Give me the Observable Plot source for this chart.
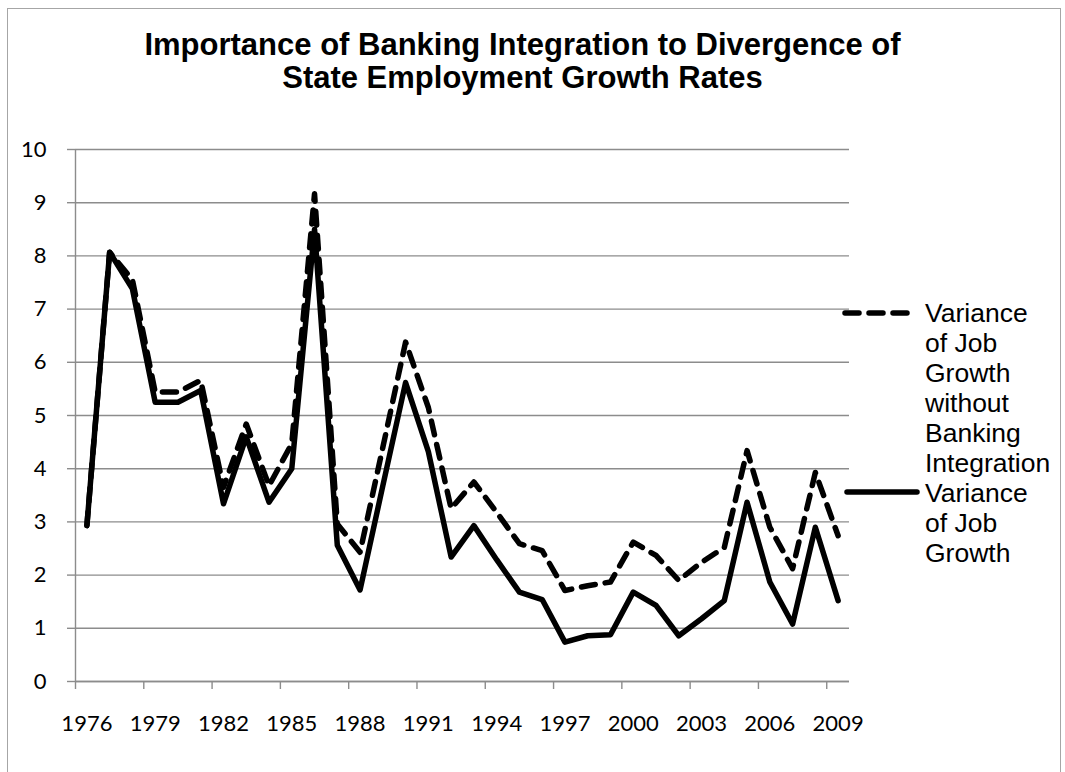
<!DOCTYPE html>
<html>
<head>
<meta charset="utf-8">
<script src="https://cdn.jsdelivr.net/npm/d3@7"></script>
<script src="https://cdn.jsdelivr.net/npm/@observablehq/plot@0.6"></script>
<style>
  html, body { margin: 0; padding: 0; background: #fff; }
  #wrap { position: relative; width: 1065px; height: 772px; overflow: hidden; background: #fff; }
  #border { position: absolute; left: 7px; top: 8px; width: 1054px; height: 800px; border: 1.5px solid #a6a6a6; box-sizing: border-box; }
  #chart { position: absolute; left: 0; top: 0; }
  #title { position: absolute; left: 0; top: 28px; width: 1045px; text-align: center;
           font-family: "Liberation Sans", Arial, sans-serif; font-weight: bold; font-size: 31px; line-height: 33px; color: #000; }
  .legtext { position: absolute; left: 925px; font-family: "Liberation Sans", Arial, sans-serif; font-size: 26.5px; line-height: 30px; color: #000; white-space: nowrap; }
  #legsvg { position: absolute; left: 0; top: 0; }
</style>
</head>
<body>
<div id="wrap">
  <div id="border"></div>
  <div id="chart"></div>
  <div id="title">Importance of Banking Integration to Divergence of<br>State Employment Growth Rates</div>
  <div class="legtext" style="top:298px">Variance<br>of Job<br>Growth<br>without<br>Banking<br>Integration</div>
  <div class="legtext" style="top:478px">Variance<br>of Job<br>Growth</div>
  <svg id="legsvg" width="1065" height="772">
    <line x1="845" x2="913" y1="313" y2="313" stroke="#000" stroke-width="5.5" stroke-dasharray="14,10" stroke-linecap="round"/>
    <line x1="847" x2="917" y1="492" y2="492" stroke="#000" stroke-width="5.5" stroke-linecap="round"/>
  </svg>
</div>
<script>
const years = [1976,1977,1978,1979,1980,1981,1982,1983,1984,1985,1986,1987,1988,1989,1990,1991,1992,1993,1994,1995,1996,1997,1998,1999,2000,2001,2002,2003,2004,2005,2006,2007,2008,2009];
const varianceJobGrowth = [2.93,8.07,7.38,5.25,5.25,5.47,3.34,4.60,3.37,4.00,8.50,2.56,1.72,3.68,5.62,4.32,2.34,2.93,2.29,1.68,1.54,0.74,0.86,0.88,1.68,1.43,0.86,1.18,1.52,3.37,1.87,1.08,2.90,1.52];
const varianceWithoutBanking = [2.93,8.07,7.55,5.44,5.44,5.66,3.65,4.84,3.68,4.47,9.17,2.96,2.43,4.40,6.38,5.15,3.25,3.75,3.18,2.59,2.46,1.71,1.80,1.87,2.62,2.37,1.90,2.24,2.52,4.34,2.90,2.12,3.93,2.74];
const labelYears = [1976,1979,1982,1985,1988,1991,1994,1997,2000,2003,2006,2009];
const yTicks = [0,1,2,3,4,5,6,7,8,9,10];

const rows = years.map((year, i) => ({year, solid: varianceJobGrowth[i], dashed: varianceWithoutBanking[i]}));
const boundaries = labelYears.map(y => y - 0.5);
const gray = "#8c8c8c";

const chart = Plot.plot({
  width: 1065,
  height: 772,
  marginLeft: 75,
  marginRight: 216,
  marginTop: 149,
  marginBottom: 91,
  x: {type: "linear", domain: [years[0] - 0.5, years[years.length - 1] + 0.5]},
  y: {domain: [0, 10]},
  style: {fontFamily: "Lato, 'Open Sans', sans-serif", fontSize: "22px", color: "#000", background: "transparent", overflow: "visible"},
  marks: [
    Plot.gridY(yTicks, {stroke: gray, strokeOpacity: 1, strokeWidth: 1.4}),
    Plot.ruleX([years[0] - 0.5], {stroke: gray, strokeWidth: 1.4}),
    Plot.ruleY([0], {stroke: gray, strokeWidth: 1.4}),
    Plot.axisY(yTicks, {tickSize: 8, tickPadding: 21, stroke: gray, strokeWidth: 1.4, label: null, tickFormat: d => String(d), fill: "#000"}),
    Plot.axisX(boundaries, {tickSize: 8, tickFormat: () => "", stroke: gray, strokeWidth: 1.4, label: null}),
    Plot.axisX(labelYears, {tickSize: 0, tickPadding: 34, label: null, tickFormat: d => String(d), fill: "#000"}),
    Plot.line(rows, {x: "year", y: "solid", stroke: "#000", strokeWidth: 5.5, strokeLinejoin: "round", strokeLinecap: "round"}),
    Plot.line(rows, {x: "year", y: "dashed", stroke: "#000", strokeWidth: 5.5, strokeDasharray: "14,10", strokeLinejoin: "round", strokeLinecap: "round"})
  ]
});
document.getElementById("chart").appendChild(chart);
</script>
</body>
</html>
